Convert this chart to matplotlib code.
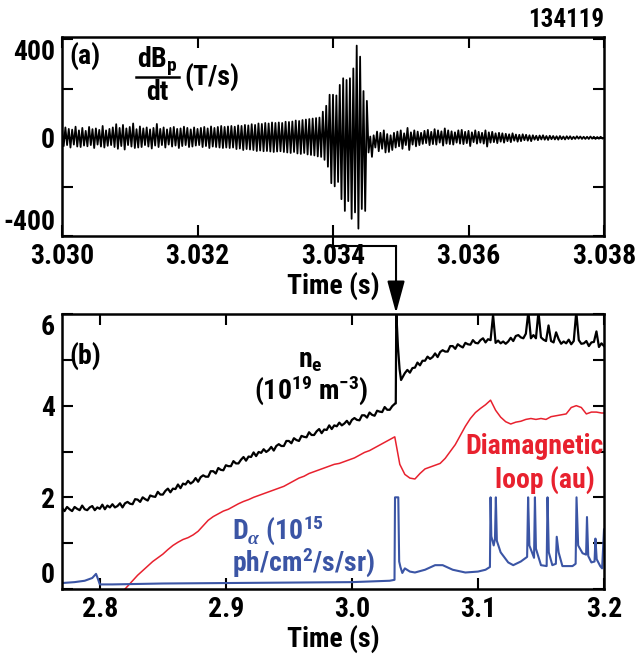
import numpy as np
import matplotlib
matplotlib.use("Agg")
import matplotlib.pyplot as plt
from matplotlib import font_manager
from matplotlib.lines import Line2D
from matplotlib.patches import FancyArrowPatch


# ======================
# Panel (a): dBp/dt, extrema of the oscillation (one value every 25 us)
# ======================
DBDT_T0 = 3.0300
DBDT_STEP = 25e-6

# 3.0300 - 3.0332 s, quiet mode
dbdt_pre = [
    38, -34, 42, -30, 36, -40, 33, -28, 45, -36, 30, -38, 40, -32, 28, -35,
    44, -30, 35, -42, 38, -28, 32, -36, 48, -40, 30, -33, 36, -30, 42, -38,
    55, -45, 40, -34, 52, -48, 38, -30, 44, -36, 58, -42, 35, -40, 46, -38,
    38, -30, 42, -36, 34, -44, 40, -32, 56, -38, 36, -30, 42, -40, 34, -28,
    40, -36, 44, -32, 36, -42, 38, -34, 45, -30, 40, -38, 34, -36, 42, -32,
    36, -30, 40, -38, 44, -34, 38, -42, 46, -36, 40, -38, 44, -40, 48, -42,
    44, -40, 46, -42, 48, -40, 45, -46, 50, -44, 48, -50, 52, -46, 50, -48,
    55, -50, 52, -54, 58, -52, 56, -55, 60, -54, 58, -56, 62, -58, 60, -56,
]
# 3.0332 - 3.0346 s, growth and burst
dbdt_burst = [
    62, -55, 60, -58, 65, -60, 64, -62, 66, -58, 70, -64,
    68, -66, 72, -62, 74, -68, 76, -70, 78, -72, 80, -76,
    82, -78, 106, -90, 130, -118, 175, -185, 175, -198, 172, -180,
    215, -250, 242, -298, 235, -258, 242, -330, 282, -304, 375, -370,
    330, -290, 190, -298, 150, -60,
]
# 3.0346 - 3.0380 s, after the crash
dbdt_post = [
    5, -78, 10, -40, 25, -55, 20, -45, 30, -60, 15, -58, 10, -50, 20, -40,
    25, -35, 30, -45, 18, -30, 40, -50, 22, -28, 30, -35, 25, -30, 20, -25,
    28, -22, 32, -30, 24, -26, 35, -28, 30, -20, 26, -32, 38, -24, 30, -26,
    26, -28, 22, -20, 30, -24, 32, -26, 24, -22, 28, -34, 22, -18, 30, -24,
    24, -20, 20, -24, 30, -36, 22, -20, 24, -18, 18, -22, 20, -16, 18, -20,
    16, -14, 14, -18, 18, -12, 13, -16, 12, -14, 14, -10, 12, -12, 10, -14,
    10, -8, 8, -10, 9, -7, 10, -8, 7, -9, 8, -6, 7, -7, 6, -8,
    7, -6, 5, -7, 6, -5, 6, -6, 4, -5, 6, -4, 5, -5, 4, -5,
    4, -5, 5, -4, 4, -5, 3, -4, 4, -3,
]

# ======================
# Panel (b): density, diamagnetic loop, D-alpha
# ======================
NE_PRE_T0 = 2.770
NE_STEP = 0.002
ne_pre = [
    1.77, 1.70, 1.79, 1.74, 1.70, 1.79, 1.75, 1.72, 1.82, 1.74,
    1.72, 1.78, 1.81, 1.72, 1.78, 1.75, 1.84, 1.74, 1.82, 1.78,
    1.85, 1.78, 1.81, 1.87, 1.78, 1.87, 1.90, 1.86, 1.85, 1.96,
    1.95, 1.90, 2.00, 1.96, 1.93, 2.04, 2.02, 2.01, 2.12, 2.06,
    2.06, 2.14, 2.19, 2.11, 2.19, 2.18, 2.28, 2.20, 2.30, 2.28,
    2.36, 2.30, 2.34, 2.42, 2.34, 2.44, 2.48, 2.45, 2.45, 2.57,
    2.57, 2.52, 2.64, 2.60, 2.59, 2.70, 2.68, 2.68, 2.79, 2.74,
    2.74, 2.82, 2.88, 2.80, 2.89, 2.88, 2.98, 2.90, 2.99, 2.97,
    3.05, 2.99, 3.03, 3.10, 3.02, 3.12, 3.16, 3.12, 3.12, 3.23,
    3.23, 3.18, 3.29, 3.25, 3.23, 3.34, 3.32, 3.31, 3.42, 3.36,
    3.36, 3.44, 3.49, 3.40, 3.48, 3.47, 3.57, 3.49, 3.57, 3.55,
    3.63, 3.57, 3.61, 3.67, 3.59, 3.69, 3.73, 3.69, 3.68, 3.79,
    3.79, 3.74, 3.85, 3.80, 3.78, 3.89, 3.87, 3.86, 3.97, 3.91,
    3.91, 3.99, 4.04,
]
ne_jump_t = [3.0348, 3.0352, 3.0365, 3.0378, 3.0390]
ne_jump = [4.05, 6.05, 5.30, 4.80, 4.56]
NE_POST_T0 = 3.040
ne_post = [
    4.61, 4.71, 4.78, 4.72, 4.82, 4.83, 4.94, 4.88, 4.98, 4.98,
    5.07, 5.02, 5.06, 5.14, 5.06, 5.17, 5.21, 5.18, 5.18, 5.30,
    5.30, 5.24, 5.34, 5.30, 5.27, 5.37, 5.34, 5.33, 5.43, 5.37,
    5.36, 5.43, 5.47, 5.38, 5.45, 5.43, 5.98, 5.37, 5.42, 5.36,
    5.40, 5.35, 5.40, 5.48, 5.41, 5.52, 5.54, 5.49, 5.47, 5.57,
    6.05, 5.47, 5.54, 5.47, 6.05, 5.49, 5.44, 5.41, 5.75, 5.41,
    5.38, 5.60, 5.45, 5.35, 5.40, 5.36, 5.44, 5.34, 5.41, 6.05,
    5.43, 5.35, 5.36, 5.41, 5.30, 5.38, 5.39, 5.62, 5.28, 5.36,
    5.30,
]

DIAMAG_T0 = 2.818
DIAMAG_STEP = 0.004
diamag = [
    -0.06, 0.06, 0.18, 0.30, 0.40, 0.50, 0.60, 0.68, 0.76, 0.86,
    0.95, 1.02, 1.08, 1.12, 1.18, 1.26, 1.38, 1.50, 1.58, 1.64,
    1.70, 1.74, 1.80, 1.86, 1.91, 1.95, 2.00, 2.04, 2.08, 2.12,
    2.16, 2.20, 2.24, 2.30, 2.36, 2.42, 2.46, 2.52, 2.56, 2.60,
    2.64, 2.68, 2.72, 2.74, 2.78, 2.82, 2.86, 2.92, 2.98, 3.02,
    3.08, 3.14, 3.20, 3.26, 3.32, 2.72, 2.50, 2.42, 2.40, 2.52,
    2.62, 2.66, 2.70, 2.74, 2.85, 3.00, 3.15, 3.35, 3.55, 3.72,
    3.85, 3.94, 4.02, 4.12, 3.90, 3.75, 3.65, 3.60, 3.64, 3.66,
    3.70, 3.72, 3.70, 3.72, 3.70, 3.76, 3.78, 3.80, 3.82, 3.96,
    4.00, 3.96, 3.82, 3.86, 3.86, 3.84, 3.84,
]

dalpha_t = [
    2.770, 2.780, 2.788, 2.794, 2.797, 2.7985, 2.800, 2.810, 2.850, 2.900,
    2.950, 3.000, 3.030, 3.0338, 3.0342, 3.0368, 3.0375, 3.0385, 3.040, 3.042,
    3.046, 3.050, 3.058, 3.066, 3.072, 3.080, 3.090, 3.100, 3.106, 3.1095,
    3.1100, 3.1106, 3.1125, 3.1135, 3.1142, 3.1150, 3.118, 3.124, 3.128, 3.134,
    3.139, 3.1398, 3.1408, 3.1445, 3.1452, 3.146, 3.150, 3.1545, 3.1552, 3.1562,
    3.159, 3.1618, 3.1625, 3.164, 3.167, 3.175, 3.1775, 3.1782, 3.1795, 3.183,
    3.1858, 3.1865, 3.1875, 3.190, 3.1925, 3.1932, 3.1942, 3.197, 3.1985, 3.200,
]
dalpha = [
    0.13, 0.15, 0.18, 0.24, 0.33, 0.22, 0.10, 0.10, 0.12, 0.13,
    0.14, 0.15, 0.18, 0.20, 2.00, 2.00, 0.60, 0.48, 0.35, 0.45,
    0.38, 0.36, 0.42, 0.52, 0.52, 0.42, 0.36, 0.38, 0.42, 0.48,
    2.00, 1.15, 0.95, 1.10, 2.00, 1.05, 0.80, 0.58, 0.52, 0.60,
    0.70, 2.00, 0.95, 0.68, 2.00, 0.88, 0.52, 0.50, 2.00, 0.80,
    0.52, 0.55, 1.14, 0.80, 0.50, 0.50, 0.55, 2.00, 0.95, 0.78,
    0.75, 1.57, 0.72, 0.58, 0.60, 1.10, 0.65, 0.50, 0.45, 1.30,
]

RED = "#e8212e"
BLUE = "#3b55a5"


def pick_font():
    """Narrow bold sans if one is installed, else plain Liberation Sans."""
    names = {f.name for f in font_manager.fontManager.ttflist}
    for name in ["Liberation Sans Narrow", "Roboto Condensed", "Open Sans Condensed",
                 "DejaVu Sans Condensed", "Arial Narrow"]:
        if name in names:
            return name, "normal", 20
    for f in font_manager.fontManager.ttflist:
        if f.name == "DejaVu Sans" and f.stretch in ("condensed", 300, 400 - 100):
            return "DejaVu Sans", "condensed", 18
    return "Liberation Sans", "normal", 18


FONT_NAME, STRETCH, FS = pick_font()

plt.rcParams["font.family"] = [FONT_NAME, "DejaVu Sans"]
plt.rcParams["font.stretch"] = STRETCH
plt.rcParams["font.weight"] = "bold"
plt.rcParams["axes.labelweight"] = "bold"
plt.rcParams["mathtext.fontset"] = "custom"
plt.rcParams["mathtext.rm"] = FONT_NAME + ":bold"
plt.rcParams["mathtext.it"] = FONT_NAME + ":bold"
plt.rcParams["mathtext.bf"] = FONT_NAME + ":bold"
plt.rcParams["mathtext.sf"] = "Liberation Serif:italic"
plt.rcParams["mathtext.default"] = "rm"

W, H = 640, 662
fig = plt.figure(figsize=(W / 100, H / 100), dpi=100, facecolor="white")


def px(x, y):
    return x / W, 1 - y / H


def style(ax):
    for s in ax.spines.values():
        s.set_linewidth(1.8)
    ax.tick_params(direction="in", length=8, width=1.5, top=True, right=True,
                   labelsize=FS, pad=5)
    # end labels sit inside the frame, as in the original figure
    labels = ax.get_yticklabels()
    labels[0].set_va("bottom")
    labels[-1].set_va("top")


# ---------- (a) ----------
ax_a = fig.add_axes([62 / W, 1 - 236 / H, 542 / W, 199 / H])
dbdt = np.array(dbdt_pre + dbdt_burst + dbdt_post)
t_a = DBDT_T0 + DBDT_STEP * np.arange(len(dbdt))
ax_a.plot(t_a, dbdt, color="black", lw=1.3)
ax_a.set_xlim(3.030, 3.038)
ax_a.set_ylim(-400, 410)
ax_a.set_xticks([3.030, 3.032, 3.034, 3.036, 3.038])
ax_a.set_xticklabels(["3.030", "3.032", "3.034", "3.036", "3.038"])
ax_a.set_yticks([-400, -200, 0, 200, 400])
ax_a.set_yticklabels(["-400", "", "0", "", "400"])
ax_a.set_xlabel("Time (s)", fontsize=FS, labelpad=1)
style(ax_a)

fig.text(*px(604, 20), "134119", ha="right", va="center", fontsize=FS - 2)
fig.text(*px(85, 56), "(a)", ha="center", va="center", fontsize=FS)
fig.text(*px(157, 61), r"dB$_\mathregular{p}$", ha="center", va="center", fontsize=FS)
fig.text(*px(157, 92), "dt", ha="center", va="center", fontsize=FS)
fig.add_artist(Line2D([136 / W, 179 / W], [1 - 77 / H, 1 - 77 / H],
                      color="black", lw=1.8))
fig.text(*px(184, 77), "(T/s)", ha="left", va="center", fontsize=FS)

# ---------- (b) ----------
ax_b = fig.add_axes([62 / W, 1 - 589 / H, 542 / W, 275 / H])
t_pre = NE_PRE_T0 + NE_STEP * np.arange(len(ne_pre))
t_post = NE_POST_T0 + NE_STEP * np.arange(len(ne_post))
t_ne = np.concatenate([t_pre, ne_jump_t, t_post])
ne = np.concatenate([ne_pre, ne_jump, ne_post])
t_dia = DIAMAG_T0 + DIAMAG_STEP * np.arange(len(diamag))

ax_b.plot(t_dia, diamag, color=RED, lw=1.1)
ax_b.plot(dalpha_t, dalpha, color=BLUE, lw=1.5)
ax_b.plot(t_ne, ne, color="black", lw=1.6)
ax_b.set_xlim(2.77, 3.2)
ax_b.set_ylim(0, 6)
ax_b.set_xticks([2.8, 2.9, 3.0, 3.1, 3.2])
ax_b.set_xticklabels(["2.8", "2.9", "3.0", "3.1", "3.2"])
ax_b.set_yticks([0, 1, 2, 3, 4, 5, 6])
ax_b.set_yticklabels(["0", "", "2", "", "4", "", "6"])
ax_b.set_xlabel("Time (s)", fontsize=FS, labelpad=1)
style(ax_b)

fig.text(*px(85, 356), "(b)", ha="center", va="center", fontsize=FS)
fig.text(*px(310, 360), r"n$_\mathregular{e}$", ha="center", va="center", fontsize=FS)
fig.text(*px(311, 390), r"(10$^{19}$ m$^{-3}$)", ha="center", va="center", fontsize=FS)
fig.text(*px(604, 446), "Diamagnetic", ha="right", va="center", fontsize=FS, color=RED)
fig.text(*px(545, 480), "loop (au)", ha="center", va="center", fontsize=FS, color=RED)
fig.text(*px(232, 530), r"D$_{\mathsf{\alpha}}$ (10$^{15}$", ha="left", va="center",
         fontsize=FS, color=BLUE)
fig.text(*px(304, 562), r"ph/cm$^2$/s/sr)", ha="center", va="center", fontsize=FS,
         color=BLUE)

# ---------- arrow linking the crash time to panel (b) ----------
fig.canvas.draw()
inv = fig.transFigure.inverted()
x0, y0 = ax_a.transData.transform((3.034, -400))
x1, y1 = ax_b.transData.transform((3.035, 6))
ybend = y0 - 10
p0, pb, pc = inv.transform([(x0, y0), (x0, ybend), (x1, ybend)])
p1 = inv.transform((x1, y1 + 1))
fig.add_artist(Line2D([p0[0], pb[0], pc[0]], [p0[1], pb[1], pc[1]],
                      color="black", lw=1.5))
fig.add_artist(FancyArrowPatch(
    pc, p1, transform=fig.transFigure,
    arrowstyle="-|>,head_length=1.1,head_width=0.3",
    mutation_scale=18, color="black", lw=1.5, shrinkA=0, shrinkB=0))

fig.savefig("out.png", dpi=100, facecolor="white")
